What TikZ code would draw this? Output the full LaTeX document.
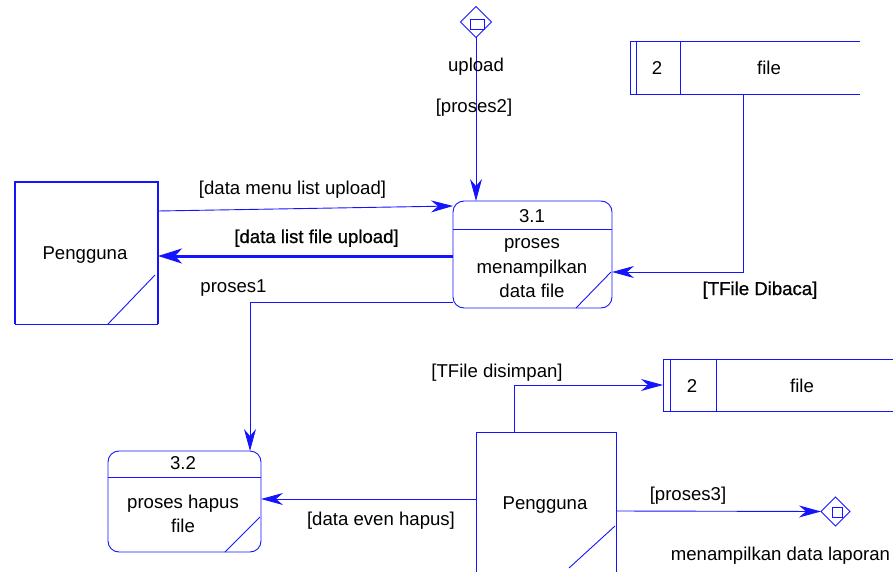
\documentclass[tikz,border=0pt]{standalone}
\usepackage{fontspec}
\setmainfont{Liberation Sans}
\newfontface\fakebold{Liberation Sans}[FakeBold=0.8]
\usetikzlibrary{arrows.meta,calc,shapes.geometric}
\definecolor{bl}{RGB}{20,20,255}
\begin{document}
\begin{tikzpicture}[x=1pt,y=-1pt,
  every node/.style={font=\fontsize{18.6}{24.5}\selectfont, inner sep=0pt, outer sep=0pt, text=black},
  ln/.style={draw=bl, line width=0.9pt},
  arr/.style={ln, -{Stealth[length=22pt,width=12pt,inset=7pt]}},
  thickarr/.style={draw=bl, line width=3pt, -{Stealth[length=24pt,width=15pt,inset=7pt]}},
  lbl/.style={anchor=base},
  procbox/.style={draw=bl, line width=0.9pt, rounded corners=11pt},
  dia/.style={diamond, draw=bl, line width=0.9pt, minimum width=#1, minimum height=#1}]
\useasboundingbox (0,0) rectangle (896,572);

% external entity 1
\node[minimum width=143pt, minimum height=142pt] (p1) at (86.5,253) {};
\draw[draw=bl, line width=1.8pt] (p1.south west) -- (p1.north west) -- (p1.north east) -- (p1.south east);
\draw[ln] (p1.south west) -- (p1.south east);
\draw[ln] ($(p1.south east)+(-50,0)$) -- ($(p1.south east)+(-3,-49)$);
\node[lbl] (tp1) at (85,259) {Pengguna};

% process 3.1
\node[procbox, minimum width=159pt, minimum height=107pt] (p31) at (532.5,254.5) {};
\draw[ln] ($(p31.north west)+(0,28)$) -- ($(p31.north east)+(0,28)$);
\draw[ln] ($(p31.south east)+(-36,0)$) -- ($(p31.south east)+(-1,-36)$);
\node[lbl] (n31) at (532,222) {3.1};
\node[align=center] (b31) at (532,268.5) {proses\\menampilkan\\data file};

% process 3.2
\node[procbox, minimum width=153pt, minimum height=101pt] (p32) at (184.5,501.5) {};
\draw[ln] ($(p32.north west)+(0,26)$) -- ($(p32.north east)+(0,26)$);
\draw[ln] ($(p32.south east)+(-36,0)$) -- ($(p32.south east)+(-1,-35)$);
\node[lbl] (n32) at (183,469) {3.2};
\node[align=center] (b32) at (183,514) {proses hapus\\file};

% data store 1
\node[minimum width=230pt, minimum height=53pt] (s1) at (745,67.5) {};
\draw[ln] (s1.north east) -- (s1.north west) -- (s1.south west) -- (s1.south east);
\draw[ln] ($(s1.north west)+(6,0)$) -- ($(s1.south west)+(6,0)$);
\draw[ln] ($(s1.north west)+(50,0)$) -- ($(s1.south west)+(50,0)$);
\node[lbl] (s1n) at (657,75) {2};
\node[lbl] (s1t) at (769,75) {file};

% data store 2
\node[minimum width=230pt, minimum height=52pt] (s2) at (778,385) {};
\draw[ln] (s2.north east) -- (s2.north west) -- (s2.south west) -- (s2.south east);
\draw[ln] ($(s2.north west)+(7,0)$) -- ($(s2.south west)+(7,0)$);
\draw[ln] ($(s2.north west)+(53,0)$) -- ($(s2.south west)+(53,0)$);
\node[lbl] (s2n) at (692,392) {2};
\node[lbl] (s2t) at (802,392) {file};

% external entity 2 (cut at bottom)
\node[minimum width=140pt, minimum height=140pt] (p2) at (546,502) {};
\draw[ln] (p2.south west) -- (p2.north west) -- (p2.north east) -- (p2.south east);
\draw[ln] ($(p2.south east)+(-47,-4)$) -- ($(p2.south east)+(-1,-46)$);
\node[lbl] (tp2) at (545,509) {Pengguna};

% diamonds
\node[dia=31pt] (d1) at (476,22) {};
\draw[ln] ($(d1.center)+(-6,-3)$) rectangle ($(d1.center)+(8,7)$);
\node[dia=29pt] (d2) at (835.5,511.5) {};
\draw[ln] ($(d2.center)+(-3.5,-4.5)$) rectangle ($(d2.center)+(6.5,5.5)$);

% connectors
\draw[arr] (d1.south) -- (d1.south |- p31.north);
\node[lbl] (lup) at (476,72) {upload};
\node[lbl] (lp2) at (474,113) {[proses2]};

\draw[arr] ($(p1.north east)+(0,29)$) -- ($(p31.north west)+(0,5)$);
\node[lbl] (lmenu) at (292.5,194) {[data menu list upload]};

\draw[thickarr] ($(p31.north west)+(0,55)$) -- ($(p1.north east)+(0,74)$);
\node[lbl] (llist) at (316.5,243) {\fakebold [data list file upload]};

\draw[arr] ($(p31.south west)+(0,-6)$) -| ($(p32.north west)+(142,0)$);
\node[lbl] (lp1) at (233.5,292) {proses1};

\draw[arr] ($(s1.south west)+(113,0)$) |- ($(p31.north east)+(0,71)$);
\node[lbl] (lbaca) at (760,295) {\fakebold [TFile Dibaca]};

\draw[arr] ($(p2.north west)+(38,0)$) |- (s2.west);
\node[lbl] (lsimp) at (497,377) {[TFile disimpan]};

\draw[arr] ($(p2.north west)+(0,67)$) -- ($(p32.north east)+(0,48)$);
\node[lbl] (lhapus) at (381,525) {[data even hapus]};

\draw[arr] ($(p2.north east)+(0,79)$) -- (d2.west);
\node[lbl] (lp3) at (688,500) {[proses3]};
\node[lbl] (llap) at (780.5,560) {menampilkan data laporan};
\end{tikzpicture}
\end{document}
